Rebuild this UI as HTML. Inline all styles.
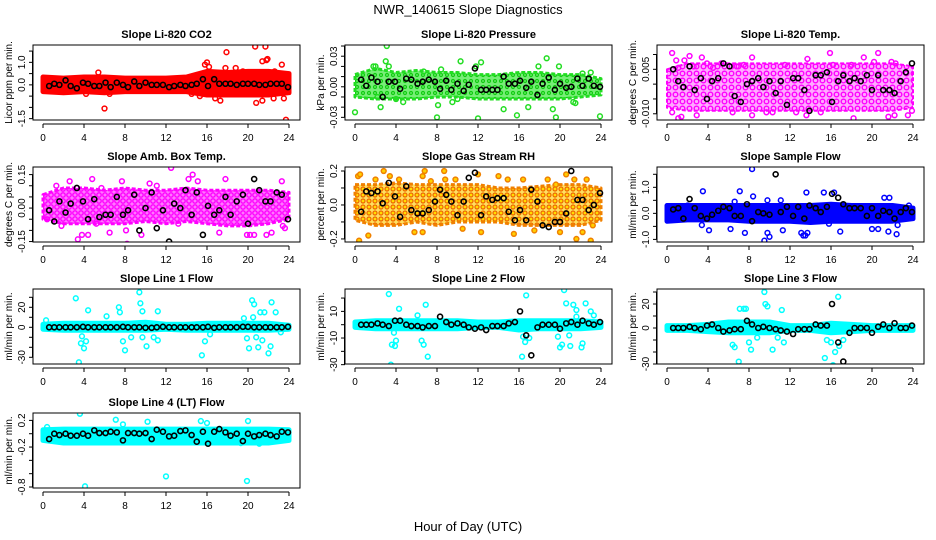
<!DOCTYPE html>
<html><head><meta charset="utf-8"><style>
html,body{margin:0;padding:0;background:#fff;}
svg{display:block;font-family:"Liberation Sans",sans-serif;}
</style></head><body>
<svg id="chart" width="936" height="540" viewBox="0 0 936 540">
<defs>
<pattern id="pat2" width="6" height="6" patternUnits="userSpaceOnUse"><rect width="6" height="6" fill="#77ee77"/><circle cx="3" cy="3" r="1.5" fill="none" stroke="#11cc11" stroke-width="1.2"/></pattern>
<pattern id="pat3" width="7" height="7" patternUnits="userSpaceOnUse"><rect width="7" height="7" fill="#ffaaff"/><circle cx="3.5" cy="3.5" r="2.3" fill="none" stroke="#ff00ff" stroke-width="1.4"/></pattern>
<pattern id="pat4" width="6" height="6" patternUnits="userSpaceOnUse"><rect width="6" height="6" fill="#ff77ff"/><circle cx="3" cy="3" r="2.2" fill="none" stroke="#ff00ff" stroke-width="1.4"/></pattern>
<pattern id="pat5" width="6" height="6" patternUnits="userSpaceOnUse"><rect width="6" height="6" fill="#ffe060"/><circle cx="3" cy="3" r="2" fill="#ffdd00" stroke="#ee6600" stroke-width="1.2"/></pattern>
</defs>
<rect width="936" height="540" fill="#fff"/>
<text x="468" y="14" font-size="13" text-anchor="middle">NWR_140615  Slope Diagnostics</text>
<text x="468" y="531" font-size="13" text-anchor="middle">Hour of Day (UTC)</text>
</svg>
<script>
// ---- shared data ----
const hourTicks = [0,4,8,12,16,20,24];
const bandHours = [0,2,4,6,8,10,12,14,16,18,20,22,24];
const meanHours = [0.6,1.1,1.6,2.2,2.7,3.3,3.9,4.4,5,5.5,6.1,6.6,7.2,7.8,8.3,8.9,9.4,10,10.6,11.1,11.7,12.3,12.8,13.4,13.9,14.5,15,15.6,16.1,16.7,17.2,17.8,18.3,18.9,19.5,20,20.6,21.1,21.7,22.2,22.8,23.3,23.9];

// ---- panel titles / labels ----
const titles = ["Slope Li-820 CO2","Slope Li-820 Pressure","Slope Li-820 Temp.","Slope Amb. Box Temp.","Slope Gas Stream RH","Slope Sample Flow","Slope Line 1 Flow","Slope Line 2 Flow","Slope Line 3 Flow","Slope Line 4 (LT) Flow"];
const yTitles = ["Licor ppm per min.","kPa per min.","degrees C per min.","degrees C per min.","percent per min.","ml/min per min.","ml/min per min.","ml/min per min.","ml/min per min.","ml/min per min."];

// ---- y axis ticks ----
const yTicks = [
 [-1.5,-1,-0.5,0,0.5,1,1.5],
 [-0.03,-0.02,-0.01,0,0.01,0.02,0.03,0.04],
 [-0.01,-0.005,0,0.005,0.01],
 [-0.15,-0.1,-0.05,0,0.05,0.1,0.15],
 [-0.2,-0.1,0,0.1,0.2],
 [-1,-0.5,0,0.5,1,1.5],
 [-30,-20,-10,0,10,20,30],
 [-30,-20,-10,0,10,20],
 [-30,-20,-10,0,10,20,30],
 [-0.8,-0.6,-0.4,-0.2,0,0.2]
];
const yTickLabels = [
 ["-1.5","","","0.0","","1.0",""],
 ["-0.03","","","0.00","","","0.03",""],
 ["-0.010","","","0.005",""],
 ["-0.15","","","0.00","","","0.15"],
 ["-0.2","","0.0","","0.2"],
 ["-1.0","","0.0","","1.0",""],
 ["-30","","","0","","20",""],
 ["-30","","-10","","10",""],
 ["-30","","","0","","20",""],
 ["-0.8","","","-0.2","","0.2"]
];
// y limits at box bottom / top
const yLo = [-1.56,-0.0326,-0.0121,-0.152,-0.218,-1.10,-36.7,-29.5,-30,-0.815];
const yHi = [1.77,0.041,0.0132,0.184,0.2235,1.78,38.3,26.8,32.5,0.311];

// ---- dense point cloud extents per panel (low / high at bandHours) ----
const bandLo = [
 [-0.3,-0.35,-0.3,-0.35,-0.3,-0.3,-0.3,-0.3,-0.45,-0.45,-0.45,-0.45,-0.35],
 [-0.01,-0.012,-0.012,-0.012,-0.01,-0.01,-0.012,-0.012,-0.012,-0.012,-0.012,-0.01,-0.008],
 [-0.008,-0.009,-0.009,-0.009,-0.009,-0.009,-0.009,-0.009,-0.009,-0.009,-0.009,-0.009,-0.008],
 [-0.05,-0.07,-0.07,-0.07,-0.07,-0.06,-0.07,-0.06,-0.07,-0.08,-0.08,-0.07,-0.05],
 [-0.09,-0.12,-0.12,-0.1,-0.12,-0.1,-0.1,-0.1,-0.12,-0.12,-0.12,-0.12,-0.09],
 [-0.3,-0.25,-0.25,-0.25,-0.3,-0.3,-0.3,-0.35,-0.3,-0.3,-0.3,-0.3,-0.2],
 [-2,-3,-3,-3,-3,-3,-2,-3,-3,-3,-3,-3,-2],
 [-2,-3,-3,-3,-3,-3,-2,-2,-4,-3,-3,-3,-2],
 [-2,-2,-3,-4,-4,-4,-2,-2,-4,-3,-2,-2,-2],
 [-0.1,-0.14,-0.14,-0.14,-0.14,-0.14,-0.14,-0.14,-0.14,-0.14,-0.14,-0.14,-0.1]
];
const bandHi = [
 [0.35,0.3,0.35,0.35,0.3,0.3,0.3,0.35,0.6,0.55,0.6,0.6,0.5],
 [0.012,0.018,0.014,0.016,0.014,0.014,0.012,0.012,0.014,0.014,0.012,0.012,0.008],
 [0.005,0.007,0.007,0.007,0.007,0.007,0.007,0.007,0.007,0.007,0.007,0.007,0.006],
 [0.06,0.09,0.09,0.08,0.09,0.08,0.08,0.09,0.08,0.08,0.08,0.08,0.07],
 [0.12,0.12,0.13,0.12,0.12,0.12,0.12,0.1,0.1,0.11,0.12,0.12,0.1],
 [0.3,0.3,0.3,0.3,0.3,0.3,0.3,0.3,0.35,0.3,0.3,0.3,0.2],
 [3,4,4,4,4,5,3,3,4,4,4,4,2],
 [2,3,3,3,3,3,2,2,3,3,3,3,2],
 [2,2,3,5,5,5,2,2,4,3,2,2,2],
 [0.06,0.07,0.07,0.07,0.07,0.07,0.07,0.07,0.07,0.07,0.07,0.07,0.06]
];

// ---- scattered points outside the dense cloud: [hour, value] ----
const outliers = [
 [[5.4,0.55],[6,-1.05],[15.8,0.9],[16,1.0],[16.2,0.8],[17.9,1.45],[17.8,0.75],[20.7,1.7],[21.7,1.7],[21.4,1.05],[21.8,1.1],[21.9,1.15],[23.3,0.9],[23.7,-1.55],[20.8,-0.8],[17.3,-0.7],[16.8,-0.6],[15.3,-0.5],[19.5,0.6],[18.8,0.75],[22.6,0.6],[6.5,-0.4],[4.2,-0.4],[14.5,-0.4],[21.4,-0.7],[22.5,-0.6],[23.5,-0.6]],
 [[0,-0.025],[2,0.02],[2.2,-0.01],[2.5,-0.02],[3.1,0.04],[3,0.025],[3.3,0.02],[4,-0.012],[4.7,-0.015],[8,-0.03],[8.1,-0.018],[8.4,0.017],[10.3,0.025],[9.5,-0.015],[11.8,0.02],[12,-0.031],[12.3,0.024],[14.5,-0.022],[15.8,-0.028],[16.9,-0.02],[17.9,0.02],[18.7,0.028],[19.3,-0.022],[19.6,-0.03],[19.9,0.02],[21.3,-0.015],[21.5,-0.016],[22.2,0.013],[23,0.014],[23.9,-0.029],[1.8,0.02],[6.7,0.015],[10,-0.012]],
 [[0.5,0.0105],[0.9,0.008],[1.1,0.0055],[1.7,0.008],[2.2,0.0095],[2.6,0.006],[3.4,0.009],[3.9,0.007],[5.3,0.007],[7.5,0.0065],[8.3,0.009],[11.5,0.0065],[13.7,0.0085],[15.9,0.0105],[16.2,0.0065],[18,0.0065],[19.2,0.009],[20.2,0.0075],[20.6,0.0105],[21.9,0.0075],[22.3,0.007],[0.5,-0.0095],[1.1,-0.0115],[1.4,-0.011],[2.9,-0.0105],[5.6,-0.0135],[6.4,-0.0095],[8.3,-0.0105],[10.3,-0.0095],[12.6,-0.0095],[13.6,-0.0105],[15,-0.0095],[18.2,-0.0115],[21.6,-0.011],[22.2,-0.0105],[23.5,-0.0105],[23.9,-0.009],[9.7,-0.0095],[6.8,0.006],[4.5,0.0055]],
 [[0.4,-0.05],[1.3,0.1],[2.6,0.12],[3.4,-0.14],[3.8,-0.12],[4.4,-0.12],[4.8,0.13],[5.2,-0.07],[6.5,-0.11],[7.7,0.12],[8.1,-0.1],[8.2,-0.16],[8.8,-0.18],[9.6,-0.12],[9.7,-0.17],[10.4,0.11],[12.5,0.18],[14.2,0.13],[14.6,0.15],[15.1,0.12],[17.2,-0.11],[17.8,0.13],[19.9,-0.12],[20.2,-0.12],[20.6,-0.12],[21.8,-0.12],[22.3,-0.11],[23.3,0.12],[23.4,-0.08],[23.6,-0.09],[1.8,-0.08],[5.7,0.09],[11.1,0.1],[13.2,-0.07]],
 [[0.3,0.17],[0.5,0.18],[0.4,-0.21],[1.3,-0.18],[2.8,0.2],[3.4,0.17],[4.3,0.15],[5.8,-0.16],[6.6,0.17],[6.8,0.2],[6.6,-0.16],[8.7,0.2],[8.8,0.15],[9.8,0.15],[10.5,-0.14],[12,0.18],[12.3,-0.16],[14,0.17],[14.9,0.15],[15.5,-0.17],[16.4,0.15],[18.8,0.15],[19.6,0.12],[20,-0.16],[20.6,0.18],[21.4,0.15],[21.6,-0.2],[22.2,-0.16],[22.6,0.15],[23,-0.21],[23.2,-0.12],[2,0.15],[7.4,0.14],[17.5,-0.15]],
 [[3.5,0.85],[7.1,0.85],[8.3,1.7],[6.6,0.45],[9.8,0.5],[9.5,-1.05],[9.8,-0.75],[10,-0.9],[8.4,0.65],[11.1,0.5],[11.3,-0.65],[13.1,-0.75],[13.3,-0.85],[13.5,-0.85],[13.7,-0.75],[13.6,0.8],[15.3,0.8],[16.3,0.8],[16.9,-0.7],[15.8,-0.4],[20,-0.6],[20.6,-0.6],[21.2,0.6],[21.7,0.6],[21.6,-0.7],[22.4,-0.8],[22.5,-0.45],[23.6,0.3],[4.1,-0.65],[3.4,-0.45],[6.2,-0.6],[7.6,-0.75],[2,0.3]],
 [[0.3,7],[3.2,29],[3.5,-35],[3.7,-16],[3.8,-9],[4,-21],[4.2,-14],[4.4,17],[6.2,11],[7.4,20],[7.5,15],[7.8,-14],[8,-23],[8.6,-10],[9.4,35],[9.5,24],[9.7,16],[10.1,-19],[11.2,16],[11.2,-13],[9.7,-10],[10.8,-10],[15.5,-28],[15.8,-14],[16.3,-7],[19.6,9],[19.9,-11],[20.1,-21],[20.4,27],[20.6,23],[20.8,-10],[21,-20],[21.4,-13],[21.6,15],[21.2,15],[22,-26],[22.3,25],[22.2,-19],[22.7,15],[23.2,-5],[20.5,10]],
 [[3.3,23],[3.5,-30],[3.6,-15],[3.9,-16],[4,-12],[4.3,12],[3.8,-6],[6.1,7],[6.5,-12],[6.7,-15],[6.9,15],[7.1,-24],[16.3,-24],[16.7,22],[16.4,-9],[16.6,-13],[17,-10],[19.8,-9],[20,-17],[20.2,-15],[20.4,26],[20.6,16],[21.3,15],[21,-16],[21.6,6],[21.6,11],[22.1,-17],[22.2,-14],[22.5,16],[23,10],[23.3,7],[20.9,-8]],
 [[6.4,-14],[6.6,-16],[7,-28],[7.1,16],[7.5,16],[7.7,16],[8,-12],[8.2,-18],[8.8,-8],[9.5,30],[9.6,20],[9.8,18],[10.3,-18],[10.8,-8],[11.2,15],[11.4,-12],[15.4,-25],[15.6,-10],[16,-12],[16.4,-20],[16.7,26],[16.8,-15],[17.2,-10],[16.2,-31],[23.8,2]],
 [[3.6,0.3],[4.1,-0.79],[12,-0.64],[19.9,-0.71],[7.1,0.21],[7.8,0.14],[10.2,0.18],[9.5,-0.12],[15.4,0.19],[16,0.16],[16.8,-0.13],[19.3,-0.14],[20,0.19],[21.1,-0.15],[18.8,-0.11],[0.4,0.1],[7.1,-0.13]]
];

// ---- hourly means (black points) at meanHours ----
const meanValues = [
 [-0.05,0.05,0,0.2,-0.05,-0.15,0.1,0.05,-0.05,-0.05,0.1,-0.1,0.1,0,-0.1,0.15,-0.05,0.1,0,0,0,-0.1,-0.05,0,-0.05,0,0.05,0.25,-0.05,0.25,0.05,0.05,0.05,0,0.05,0.05,0.05,0,0,0.05,0.05,0.05,-0.1],
 [0.007,0.001,0.009,0.005,-0.01,0.005,0.005,-0.002,0.008,0.007,0.003,0.005,0.007,0.005,-0.002,0.006,-0.003,0.003,-0.004,0.002,0.018,-0.003,-0.003,-0.003,-0.003,0.01,0.003,0.003,0.006,-0.001,0.005,-0.008,0.003,0.009,-0.003,0.003,-0.001,0,0.008,0.001,0.008,0.001,0],
 [0.005,0.001,-0.001,0.006,-0.002,0.002,-0.005,0.001,0.002,0.007,0.006,-0.004,-0.006,0,0.001,0.002,-0.001,0.001,-0.003,0.001,-0.007,0.002,0.002,-0.002,-0.009,0.003,0.003,0.004,-0.006,0.001,0.003,0.001,0.002,0.001,0.003,-0.002,0.003,-0.002,-0.002,-0.003,0.001,0.004,0.007],
 [-0.01,-0.06,0.03,-0.02,0.02,0.09,0.03,-0.05,0.04,-0.04,-0.03,-0.03,0.05,-0.03,-0.01,0.06,-0.1,0,0.07,-0.09,-0.01,-0.15,0.02,0,0.08,-0.03,0.07,-0.12,0.01,-0.03,-0.01,0.05,-0.03,0.03,0.06,-0.07,0.13,0.08,0.03,0.03,0.07,0.06,-0.05],
 [-0.04,0.08,0.07,0.08,0.01,0.13,0.05,-0.07,0.11,-0.03,-0.05,-0.05,-0.03,0.02,0.09,0.06,0.02,-0.06,0.02,0.16,0.19,-0.06,0.05,0.03,0.04,0.04,-0.04,-0.09,-0.03,-0.09,0.09,0.02,-0.12,-0.13,-0.1,-0.1,-0.05,0.2,0.03,0.03,-0.03,0,0.07],
 [0.15,0.2,-0.2,0.55,0.2,-0.1,-0.2,-0.05,0.1,0.25,0.2,-0.1,-0.1,0.35,-0.3,0.05,0,-0.05,1.5,0.05,0.25,-0.1,0.25,-0.2,0.3,0.2,0.05,0.25,0.75,0.6,0.35,0.2,0.2,0.2,-0.1,0.2,-0.1,0.1,0.05,-0.2,0.05,0.2,0.05],
 [0,0,0,0,0,0,0.5,0,0,0,0,0,0,0.5,0,0,0,-0.5,-0.5,0,0.5,0,0,0,0,0,0,0,0.5,-0.5,0,0,0,0,0.5,0.5,0,0,0,0,0,0,0.5],
 [0,0,0,1,0,-1,3,3,0,-1,-1,-2,-1,-1,6,2,0,1,0,-2,-3,-2,-4,-1,-1,-1,1,2,10,-8,-23,-2,0,0,0,-3,1,2,0,3,1,0,2],
 [0,0,0,1,0,-1,2,3,0,-3,-2,-1,-1,6,3,0,1,0,-1,-2,-3,-5,-1,-1,-1,3,2,2,20,-12,-28,-4,0,0,0,-4,1,3,0,4,0,0,2],
 [-0.08,0,-0.02,0,-0.03,-0.03,0,-0.03,0.05,0.01,0.01,0.03,0.02,-0.1,0.01,0.01,0,0.01,-0.08,0.06,0.03,-0.04,-0.03,0.04,0.05,-0.02,-0.12,0.03,-0.15,0.03,0.07,0.02,-0.03,0,-0.11,0,-0.04,-0.02,0,-0.02,-0.04,0.03,0.02]
];

// ---- styles ----
const pointColors = ["#ff0000","#22dd22","#ff00ff","#ff00ff","#f08000","#0000ff","#00ffff","#00ffff","#00ffff","#00ffff"];
const bandFills = ["#ff0000","url(#pat2)","url(#pat3)","url(#pat4)","url(#pat5)","#0000ff","#00ffff","#00ffff","#00ffff","#00ffff"];
const bandStrokeW = [5,3,2,3,3,5,5,5,5,5];

const NS = "http://www.w3.org/2000/svg";
const svg = document.getElementById('chart');
function mk(tag, attrs, parent){
  const e = document.createElementNS(NS, tag);
  for (const k in attrs) e.setAttribute(k, attrs[k]);
  (parent||svg).appendChild(e);
  return e;
}
const boxTops = [45,167,289,413];
const boxH = 75;
const boxW = 267;

titles.forEach((title, i) => {
  const col = i % 3, row = Math.floor(i / 3);
  const left = 33 + col*312, top = boxTops[row], bottom = top + boxH;
  const x0 = 43 + col*312;
  const xs = h => x0 + h * 246/24;
  const ys = v => bottom - (v - yLo[i]) / (yHi[i] - yLo[i]) * boxH;

  const g = mk('g', {});
  
  

  const cp = mk('clipPath', {id:'cp'+i}, g);
  mk('rect', {x:left, y:top, width:boxW, height:boxH}, cp);
  const plot = mk('g', {'clip-path':'url(#cp'+i+')'}, g);
  
  

  let d = '';
  bandHours.forEach((h, k) => { d += (k ? 'L' : 'M') + xs(h).toFixed(1) + ' ' + ys(bandHi[i][k]).toFixed(1); });
  for (let k = bandHours.length - 1; k >= 0; k--) d += 'L' + xs(bandHours[k]).toFixed(1) + ' ' + ys(bandLo[i][k]).toFixed(1);
  d += 'Z';
  const band = mk('path', {d:d, fill:bandFills[i], stroke:pointColors[i], 'stroke-width':bandStrokeW[i], 'stroke-linejoin':'round', 'stroke-dasharray':(bandStrokeW[i]<5?'4 2':'none')}, plot);
  
  

  outliers[i].forEach(p => {
    const c = mk('circle', {cx:xs(p[0]), cy:ys(p[1]), r:2.4, fill:(i===4?'#ffd000':'none'), stroke:pointColors[i], 'stroke-width':1.5}, plot);
    
    
  });
  meanValues[i].forEach((v, k) => {
    const c = mk('circle', {cx:xs(meanHours[k]), cy:ys(v), r:2.5, fill:'none', stroke:'#000', 'stroke-width':1.6}, plot);
    
    
  });

  const box = mk('rect', {x:left, y:top, width:boxW, height:boxH, fill:'none', stroke:'#000', 'stroke-width':1}, g);
  
  

  const xa = mk('g', {}, g);
  
  
  mk('line', {x1:xs(0), x2:xs(24), y1:bottom+4, y2:bottom+4, stroke:'#000'}, xa);
  hourTicks.forEach(h => {
    mk('line', {x1:xs(h), x2:xs(h), y1:bottom+4, y2:bottom+8, stroke:'#000'}, xa);
    const t = mk('text', {x:xs(h), y:bottom+21, 'font-size':10, 'text-anchor':'middle'}, xa);
    t.textContent = h;
    
    
  });

  const ya = mk('g', {}, g);
  
  
  const yt = yTicks[i];
  mk('line', {x1:left-0.5, x2:left-0.5, y1:ys(yt[0]), y2:ys(yt[yt.length-1]), stroke:'#000'}, ya);
  yt.forEach((v, k) => {
    mk('line', {x1:left-4, x2:left, y1:ys(v), y2:ys(v), stroke:'#000'}, ya);
    if (yTickLabels[i][k]) {
      const tx = left - 8, ty = ys(v);
      const t = mk('text', {x:tx, y:ty, 'font-size':10, 'text-anchor':'middle', transform:'rotate(-90 '+tx+' '+ty+')'}, ya);
      t.textContent = yTickLabels[i][k];
      
      
    }
  });
  const ytx = 12 + col*312, yty = top + boxH/2;
  const ytl = mk('text', {x:ytx, y:yty, 'font-size':10, 'text-anchor':'middle', transform:'rotate(-90 '+ytx+' '+yty+')'}, g);
  ytl.textContent = yTitles[i];
  
  

  const tt = mk('text', {x:left + boxW/2, y:top-7, 'font-size':11, 'font-weight':'bold', 'text-anchor':'middle'}, g);
  tt.textContent = title;
  
  
});
</script>
</body></html>
